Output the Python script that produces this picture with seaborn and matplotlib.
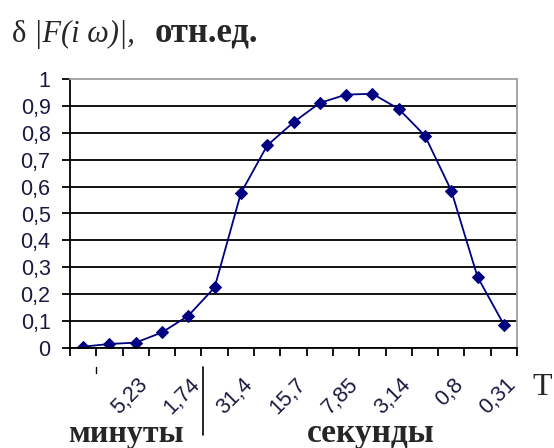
import matplotlib
matplotlib.use("Agg")
import matplotlib.pyplot as plt
import seaborn as sns
import pandas as pd
from matplotlib.transforms import ScaledTranslation
from matplotlib.lines import Line2D

# ---- data ----
values = [0.005, 0.015, 0.02, 0.058, 0.12, 0.225, 0.576, 0.753, 0.839,
          0.911, 0.942, 0.945, 0.889, 0.789, 0.585, 0.264, 0.087]
period_labels = ["", "", "5,23", "", "1,74", "", "31,4", "", "15,7", "",
                 "7,85", "", "3,14", "", "0,8", "", "0,31"]
y_ticks = [0, 0.1, 0.2, 0.3, 0.4, 0.5, 0.6, 0.7, 0.8, 0.9, 1.0]
y_tick_labels = ["0", "0,1", "0,2", "0,3", "0,4", "0,5", "0,6", "0,7",
                 "0,8", "0,9", "1"]
title_delta = "δ"
title_func = "|F(i ω)|,"
title_units = "отн.ед."
label_minutes = "минуты"
label_seconds = "секунды"
axis_letter = "T"

df = pd.DataFrame({"pos": list(range(len(values))), "value": values})

sns.set_style("white")
plt.rcParams["font.family"] = ["Liberation Sans", "DejaVu Sans"]

W, H = 554, 448
fig = plt.figure(figsize=(W / 100, H / 100), dpi=100)
L, R, T, B = 70, 517, 79, 348
ax = fig.add_axes([L / W, 1 - B / H, (R - L) / W, (B - T) / H])

sns.lineplot(data=df, x="pos", y="value", ax=ax, color="#000080",
             linewidth=1.3, marker="D", markersize=6,
             markeredgecolor="#000080", markerfacecolor="#000080")

ax.set_xlim(-0.5, len(values) - 0.5)
ax.set_ylim(0, 1)
ax.set_xlabel("")
ax.set_ylabel("")

# y axis
ax.set_yticks(y_ticks)
ax.set_yticklabels(y_tick_labels, fontsize=15.5, color="#1a1a40")
ax.tick_params(axis="y", left=True, length=6, width=1.3, color="black",
               direction="out", pad=8)
ax.yaxis.grid(True, color="black", linewidth=1.3)
ax.get_ygridlines()[-1].set_visible(False)
ax.set_axisbelow(True)

# x axis: tick marks between categories, labels at category centres
ax.set_xticks([i - 0.5 for i in range(len(values) + 1)], minor=True)
ax.set_xticks(list(range(len(values))))
ax.set_xticklabels(period_labels, fontsize=15.5, color="#1a1a40")
ax.tick_params(axis="x", which="minor", bottom=True, length=6, width=1.3,
               color="black", direction="out")
ax.tick_params(axis="x", which="major", bottom=True, length=0, pad=19)
off = ScaledTranslation(1 / 72, 0, fig.dpi_scale_trans)
for lbl in ax.get_xticklabels():
    lbl.set_rotation(45)
    lbl.set_ha("right")
    lbl.set_va("top")
    lbl.set_rotation_mode("anchor")
    lbl.set_transform(lbl.get_transform() + off)

for s in ["left", "bottom"]:
    ax.spines[s].set_color("black")
    ax.spines[s].set_linewidth(1.3)
for s in ["top", "right"]:
    ax.spines[s].set_color("#a0a0a0")
    ax.spines[s].set_linewidth(1.3)

# title pieces
fy = 1 - 42 / H
fig.text(12 / W, fy, title_delta, family="Liberation Serif", fontsize=22,
         va="baseline", ha="left")
fig.text(34 / W, fy, title_func, family="Liberation Serif", style="italic",
         fontsize=22, va="baseline", ha="left")
fig.text(155 / W, fy, title_units, family="Liberation Serif",
         weight="bold", fontsize=25, va="baseline", ha="left")

# bottom labels
by = 1 - 442 / H
fig.text(68 / W, by, label_minutes, family="Liberation Serif", weight="bold",
         fontsize=23, va="baseline", ha="left")
fig.text(307 / W, by, label_seconds, family="Liberation Serif",
         weight="bold", fontsize=24, va="baseline", ha="left")
fig.text(532 / W, 1 - 395 / H, axis_letter, family="Liberation Serif",
         fontsize=23, va="baseline", ha="left")

# separator between minutes and seconds, small mark
fig.add_artist(Line2D([203 / W, 203 / W], [1 - 367 / H, 1 - 435 / H],
                      color="black", linewidth=1.2))
fig.add_artist(Line2D([96 / W, 96 / W], [1 - 367 / H, 1 - 373 / H],
                      color="black", linewidth=1.0))

fig.savefig("out.png", dpi=100)
